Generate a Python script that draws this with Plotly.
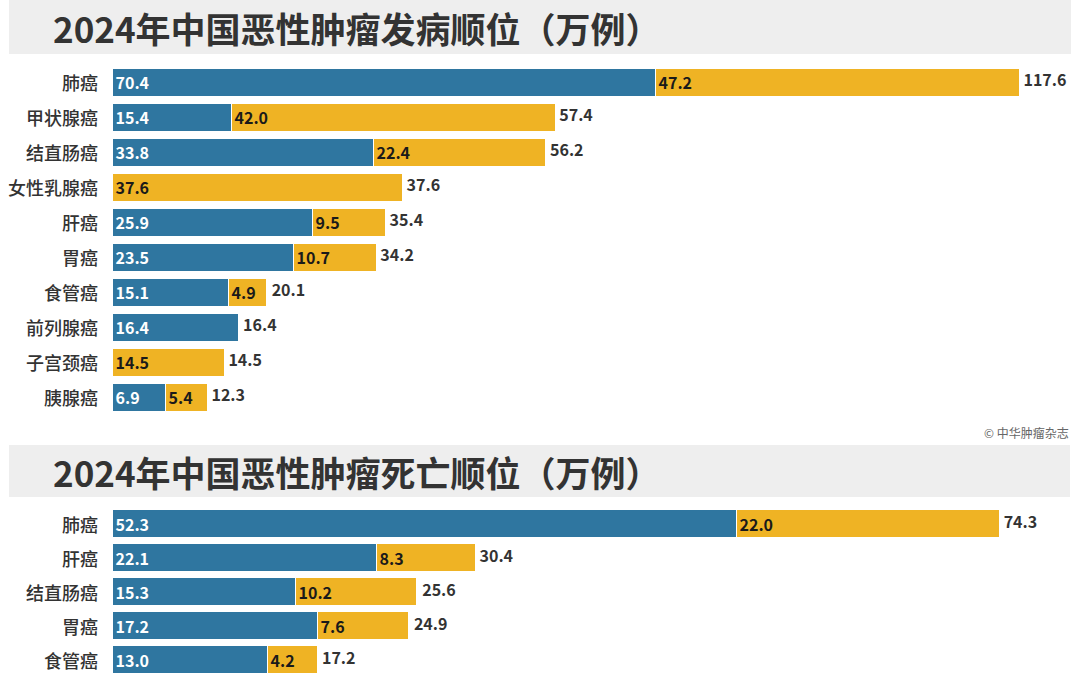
import plotly.graph_objects as go

# ---------------- data ----------------
inc_title = "2024年中国恶性肿瘤发病顺位（万例）"
inc_cats = ["肺癌", "甲状腺癌", "结直肠癌", "女性乳腺癌", "肝癌", "胃癌", "食管癌", "前列腺癌", "子宫颈癌", "胰腺癌"]
inc_male = [70.4, 15.4, 33.8, 0, 25.9, 23.5, 15.1, 16.4, 0, 6.9]
inc_female = [47.2, 42.0, 22.4, 37.6, 9.5, 10.7, 4.9, 0, 14.5, 5.4]
inc_total = [117.6, 57.4, 56.2, 37.6, 35.4, 34.2, 20.1, 16.4, 14.5, 12.3]

mort_title = "2024年中国恶性肿瘤死亡顺位（万例）"
mort_cats = ["肺癌", "肝癌", "结直肠癌", "胃癌", "食管癌"]
mort_male = [52.3, 22.1, 15.3, 17.2, 13.0]
mort_female = [22.0, 8.3, 10.2, 7.6, 4.2]
mort_total = [74.3, 30.4, 25.6, 24.9, 17.2]

source_text = "© 中华肿瘤杂志"

# ---------------- style ----------------
W, H = 1080, 675
BLUE = "#2f76a0"
YELLOW = "#efb324"
FONT = "Noto Sans CJK SC"
DARK = "#333333"


def fmt(v):
    return "" if v == 0 else f"{v:.1f}"


def py(pix):
    return 1 - pix / H


fig = go.Figure()
annotations = []


def add_panel(cats, male, female, total, xa, ya, bw):
    ys = list(range(len(cats)))
    fig.add_trace(go.Bar(
        y=ys, x=male, orientation="h", xaxis=xa, yaxis=ya,
        marker=dict(color=BLUE, line=dict(color="white", width=1)),
        width=bw, text=[fmt(v) for v in male], textposition="inside",
        insidetextanchor="start", constraintext="none",
        textfont=dict(family=FONT, size=16, color="white", weight=700),
        showlegend=False, hoverinfo="skip"))
    fig.add_trace(go.Bar(
        y=ys, x=female, orientation="h", xaxis=xa, yaxis=ya,
        marker=dict(color=YELLOW, line=dict(color="white", width=1)),
        width=bw, text=[fmt(v) for v in female], textposition="inside",
        insidetextanchor="start", constraintext="none",
        textfont=dict(family=FONT, size=16, color="#1a1a1a", weight=700),
        showlegend=False, hoverinfo="skip"))
    fig.add_trace(go.Scatter(
        y=ys, x=total, mode="text", xaxis=xa, yaxis=ya,
        text=["\u00a0" + f"{v:.1f}" for v in total], textposition="middle right",
        textfont=dict(family=FONT, size=16, color=DARK, weight=600),
        showlegend=False, hoverinfo="skip", cliponaxis=False))
    # category labels, right-aligned just left of the zero line
    for yv, c in zip(ys, cats):
        annotations.append(dict(
            text=c, xref="paper", yref=ya, x=100 / W, y=yv,
            xanchor="right", yanchor="middle", showarrow=False,
            font=dict(family=FONT, size=18, color=DARK, weight=500)))


add_panel(inc_cats, inc_male, inc_female, inc_total, "x", "y", 0.8)
add_panel(mort_cats, mort_male, mort_female, mort_total, "x2", "y2", 28 / 34)

x0 = 113 / W
axis_common = dict(showgrid=False, zeroline=False, showline=False, showticklabels=False, fixedrange=True)
ycommon = dict(showgrid=False, zeroline=False, showline=False, showticklabels=False, ticks="", fixedrange=True)

fig.update_layout(
    xaxis=dict(domain=[x0, 1], range=[0, 125.4], anchor="y", **axis_common),
    yaxis=dict(domain=[py(414.5), py(64.5)], range=[9.5, -0.5], anchor="x", **ycommon),
    xaxis2=dict(domain=[x0, 1], range=[0, 81.0], anchor="y2", **axis_common),
    yaxis2=dict(domain=[0, py(507)], range=[(H - 507) / 34 - 0.5, -0.5], anchor="x2", **ycommon),
)

annotations += [
    dict(text=inc_title, xref="paper", yref="paper", x=51 / W, y=py(27),
         xanchor="left", yanchor="middle", showarrow=False,
         font=dict(family=FONT, size=35, color=DARK, weight=700)),
    dict(text=mort_title, xref="paper", yref="paper", x=51 / W, y=py(471),
         xanchor="left", yanchor="middle", showarrow=False,
         font=dict(family=FONT, size=35, color=DARK, weight=700)),
    dict(text=source_text, xref="paper", yref="paper", x=1071 / W, y=py(433),
         xanchor="right", yanchor="middle", showarrow=False,
         font=dict(family=FONT, size=12, color="#666666")),
]

fig.update_layout(
    barmode="stack", bargap=0,
    width=W, height=H, margin=dict(l=0, r=0, t=0, b=0),
    paper_bgcolor="white", plot_bgcolor="white",
    shapes=[
        dict(type="rect", xref="paper", yref="paper", x0=9 / W, x1=1071 / W,
             y0=py(54), y1=py(0), fillcolor="#eeeeee", line=dict(width=0), layer="below"),
        dict(type="rect", xref="paper", yref="paper", x0=9 / W, x1=1070 / W,
             y0=py(497), y1=py(445), fillcolor="#eeeeee", line=dict(width=0), layer="below"),
    ],
    annotations=annotations,
)

fig.write_html("out.html")
